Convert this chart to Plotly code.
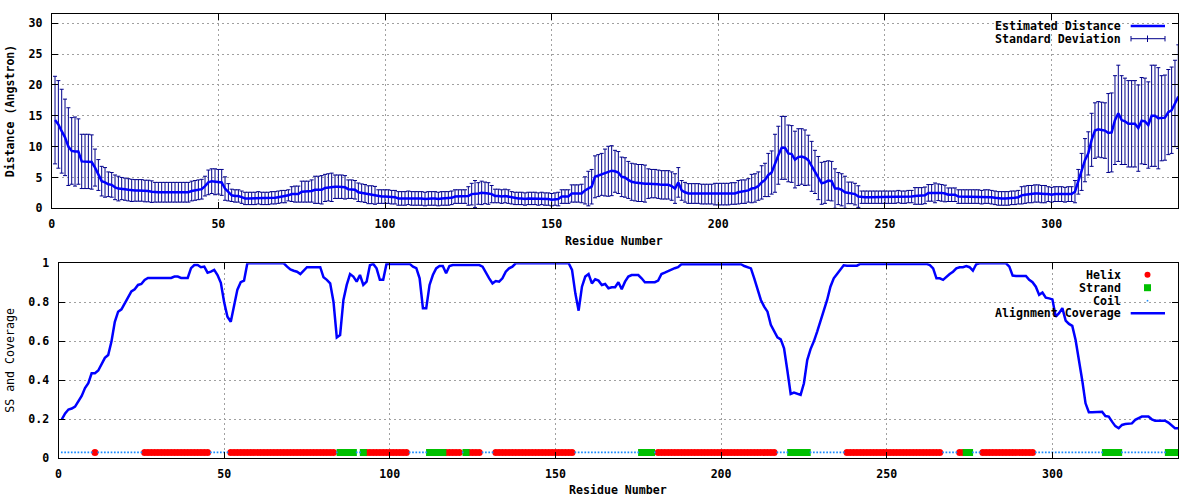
import plotly.graph_objects as go

# ---------------- data ----------------
residues = list(range(1, 339))

mean_distance = [
    14.3, 13.6, 12.5, 11.5, 10.0, 9.3, 9.2, 9.2, 7.6, 7.6,
    7.6, 7.5, 6.6, 5.4, 4.4, 4.2, 3.9, 3.8, 3.4, 3.2,
    3.2, 3.1, 3.0, 2.9, 2.9, 2.9, 2.9, 2.8, 2.8, 2.7,
    2.6, 2.6, 2.6, 2.6, 2.6, 2.6, 2.6, 2.6, 2.6, 2.6,
    2.6, 2.8, 2.9, 3.0, 3.1, 3.6, 4.2, 4.4, 4.3, 4.3,
    4.2, 3.2, 2.6, 2.1, 2.0, 2.0, 1.8, 1.6, 1.6, 1.6,
    1.6, 1.7, 1.6, 1.6, 1.6, 1.7, 1.7, 1.8, 1.9, 1.9,
    2.1, 2.3, 2.3, 2.3, 2.7, 2.7, 2.7, 2.8, 3.0, 3.0,
    3.0, 3.3, 3.4, 3.4, 3.5, 3.5, 3.5, 3.4, 3.1, 3.1,
    3.0, 2.6, 2.5, 2.4, 2.2, 2.2, 2.1, 1.9, 1.9, 1.9,
    1.9, 1.8, 1.8, 1.6, 1.6, 1.6, 1.7, 1.6, 1.6, 1.6,
    1.6, 1.5, 1.6, 1.6, 1.6, 1.5, 1.6, 1.6, 1.6, 1.7,
    1.9, 1.9, 1.9, 1.9, 2.0, 2.3, 2.3, 2.4, 2.5, 2.5,
    2.4, 2.3, 2.0, 2.0, 1.9, 2.0, 1.9, 1.7, 1.6, 1.6,
    1.6, 1.5, 1.6, 1.6, 1.6, 1.5, 1.6, 1.5, 1.5, 1.4,
    1.5, 1.5, 1.9, 1.9, 1.9, 2.4, 2.4, 2.4, 2.4, 2.9,
    3.2, 3.5, 5.1, 5.3, 5.5, 5.8, 6.0, 6.1, 6.0, 5.8,
    5.1, 5.0, 4.6, 4.3, 4.2, 4.1, 4.1, 4.0, 4.0, 4.0,
    4.0, 3.9, 3.8, 3.8, 3.8, 3.6, 3.2, 4.2, 2.9, 2.6,
    2.4, 2.4, 2.4, 2.4, 2.3, 2.3, 2.3, 2.3, 2.3, 2.3,
    2.3, 2.3, 2.3, 2.4, 2.4, 2.6, 2.7, 2.7, 2.9, 3.2,
    3.3, 3.6, 4.2, 4.6, 5.4, 5.8, 7.3, 8.6, 9.8, 9.8,
    8.9, 8.8, 7.9, 8.3, 8.4, 8.2, 7.8, 6.8, 5.9, 4.9,
    4.05, 4.2, 4.5, 4.4, 3.2, 3.2, 3.0, 2.6, 2.5, 2.5,
    2.3, 1.9, 1.8, 1.8, 1.8, 1.8, 1.8, 1.8, 1.8, 1.8,
    1.8, 1.8, 1.8, 1.9, 1.8, 1.8, 1.9, 1.9, 2.0, 2.0,
    2.0, 2.1, 2.5, 2.5, 2.5, 2.6, 2.5, 2.4, 2.2, 2.2,
    2.2, 1.9, 1.9, 1.9, 1.9, 1.9, 1.9, 1.9, 1.8, 1.9,
    1.9, 1.8, 1.7, 1.6, 1.6, 1.6, 1.6, 1.7, 1.7, 1.8,
    2.1, 2.2, 2.3, 2.3, 2.4, 2.4, 2.3, 2.3, 2.3, 2.2,
    2.3, 2.3, 2.3, 2.2, 2.3, 2.3, 2.7, 4.3, 5.9, 7.8,
    8.9, 11.1, 12.6, 12.8, 12.7, 12.6, 12.2, 12.3, 14.3, 15.4,
    14.3, 14.1, 13.7, 13.7, 13.7, 13.0, 14.2, 14.1, 13.5, 15.0,
    15.0, 14.6, 14.6, 14.7, 15.6, 15.9, 17.0, 18.1,
]

std_dev = [
    7.1, 7.1, 6.8, 6.2, 6.3, 5.4, 5.6, 5.3, 4.4, 4.4,
    4.4, 4.4, 3.0, 2.5, 2.4, 2.4, 2.0, 2.0, 2.0, 2.0,
    1.8, 1.8, 1.8, 1.8, 1.75, 1.75, 1.75, 1.75, 1.75, 1.75,
    1.6, 1.6, 1.6, 1.6, 1.6, 1.6, 1.6, 1.6, 1.6, 1.6,
    1.6, 1.6, 1.6, 1.6, 1.6, 1.6, 2.0, 2.0, 2.1, 2.0,
    2.1, 1.9, 1.4, 1.0, 1.0, 1.0, 1.0, 1.0, 1.0, 1.0,
    1.0, 1.0, 1.0, 1.0, 1.0, 1.0, 1.0, 1.0, 1.0, 1.0,
    0.9, 1.2, 1.3, 1.3, 1.7, 1.7, 1.7, 1.8, 2.2, 2.2,
    2.3, 2.2, 2.2, 2.3, 1.9, 1.9, 1.9, 1.9, 1.5, 1.5,
    1.5, 1.5, 1.45, 1.45, 1.45, 1.45, 1.45, 1.1, 1.1, 1.1,
    1.1, 1.1, 1.1, 1.1, 1.1, 1.1, 1.1, 1.1, 1.1, 1.1,
    1.1, 1.1, 1.1, 1.1, 1.1, 1.1, 1.1, 1.1, 1.1, 1.1,
    1.1, 1.1, 1.1, 1.1, 1.5, 1.75, 2.2, 1.75, 1.9, 1.75,
    1.75, 1.4, 1.1, 1.1, 1.1, 1.1, 1.1, 1.0, 1.0, 1.0,
    1.0, 1.0, 1.0, 1.0, 1.0, 1.0, 1.0, 1.0, 1.0, 1.0,
    1.0, 1.1, 1.1, 1.1, 1.1, 1.4, 1.4, 1.4, 1.5, 2.2,
    2.8, 2.8, 3.4, 3.4, 3.4, 3.8, 4.05, 4.05, 3.4, 3.4,
    3.2, 3.2, 3.0, 3.0, 3.0, 3.0, 3.0, 3.0, 2.4, 2.3,
    2.3, 2.3, 2.3, 2.3, 2.3, 2.3, 2.4, 2.4, 1.6, 1.6,
    1.6, 1.6, 1.6, 1.6, 1.6, 1.6, 1.6, 1.6, 1.75, 1.75,
    1.75, 1.75, 1.75, 1.75, 1.75, 1.9, 1.9, 1.9, 1.9, 2.3,
    2.3, 2.3, 2.7, 2.7, 3.5, 3.5, 4.7, 4.7, 5.1, 5.1,
    4.6, 4.6, 4.6, 4.6, 4.5, 4.5, 4.05, 4.05, 3.5, 3.5,
    3.4, 3.4, 3.2, 3.2, 3.2, 2.6, 2.6, 2.6, 1.75, 1.75,
    1.75, 1.75, 1.0, 1.0, 1.0, 1.0, 1.0, 1.0, 1.0, 1.0,
    1.0, 1.0, 1.0, 1.0, 1.0, 1.0, 1.0, 1.0, 1.35, 1.35,
    1.35, 1.35, 1.35, 1.35, 1.6, 1.35, 1.35, 1.35, 1.1, 1.1,
    1.1, 1.1, 1.1, 1.1, 1.1, 1.1, 1.1, 1.1, 1.1, 1.1,
    1.1, 1.1, 1.1, 1.1, 1.1, 1.1, 1.1, 1.1, 1.1, 1.1,
    1.4, 1.4, 1.4, 1.4, 1.4, 1.4, 1.4, 1.4, 1.2, 1.2,
    1.2, 1.2, 1.2, 1.2, 1.2, 1.2, 1.8, 2.0, 3.0, 3.5,
    3.5, 4.3, 4.5, 4.5, 4.5, 4.5, 6.4, 6.4, 7.2, 7.8,
    7.2, 7.0, 7.0, 7.0, 7.0, 7.0, 7.0, 7.0, 7.0, 8.2,
    8.2, 8.2, 6.9, 6.9, 6.9, 7.0, 7.0, 8.4,
]

coverage = [
    0.20, 0.23, 0.25, 0.255, 0.265, 0.29, 0.32, 0.36, 0.385, 0.436,
    0.436, 0.45, 0.487, 0.515, 0.53, 0.60, 0.70, 0.752, 0.764, 0.795,
    0.82, 0.856, 0.867, 0.889, 0.894, 0.915, 0.925, 0.925, 0.925, 0.925,
    0.925, 0.925, 0.925, 0.925, 0.932, 0.932, 0.925, 0.925, 0.925, 0.975,
    0.991, 0.991, 0.98, 0.983, 0.952, 0.957, 0.966, 0.94, 0.90, 0.80,
    0.726, 0.70, 0.78, 0.865, 0.903, 0.911, 1.0, 1.0, 1.0, 1.0,
    1.0, 1.0, 1.0, 1.0, 1.0, 1.0, 1.0, 1.0, 0.983, 0.969,
    0.962, 0.957, 0.945, 0.962, 0.98, 0.98, 0.98, 0.98, 0.98, 0.928,
    0.915, 0.897, 0.803, 0.62, 0.632, 0.812, 0.889, 0.945, 0.932, 0.906,
    0.94, 0.889, 0.906, 0.99, 0.997, 0.974, 0.915, 0.915, 0.997, 0.997,
    0.997, 0.997, 0.997, 0.997, 0.997, 0.997, 0.983, 0.975, 0.923, 0.77,
    0.77, 0.889, 0.94, 0.974, 0.986, 0.986, 0.949, 0.986, 0.991, 0.991,
    0.991, 0.991, 0.991, 0.991, 0.991, 0.991, 0.991, 0.983, 0.949, 0.923,
    0.897, 0.909, 0.906, 0.923, 0.957, 0.974, 0.983, 1.0, 1.0, 1.0,
    1.0, 1.0, 1.0, 1.0, 1.0, 1.0, 1.0, 1.0, 1.0, 1.0,
    1.0, 1.0, 1.0, 1.0, 0.966, 0.846, 0.757, 0.88, 0.932, 0.945,
    0.897, 0.918, 0.911, 0.889, 0.894, 0.872, 0.877, 0.877, 0.903, 0.867,
    0.906, 0.932, 0.94, 0.94, 0.94, 0.923, 0.903, 0.903, 0.903, 0.903,
    0.911, 0.945, 0.952, 0.96, 0.969, 0.975, 0.98, 0.995, 0.995, 0.995,
    0.995, 0.995, 0.995, 0.995, 0.995, 0.995, 0.995, 0.995, 0.995, 0.995,
    0.995, 0.995, 0.995, 0.995, 0.995, 0.995, 0.986, 0.98, 0.974, 0.923,
    0.863, 0.812, 0.778, 0.752, 0.684, 0.65, 0.62, 0.61, 0.564, 0.45,
    0.33, 0.337, 0.33, 0.325, 0.385, 0.504, 0.56, 0.60, 0.65, 0.70,
    0.76, 0.812, 0.88, 0.923, 0.945, 0.965, 0.99, 0.988, 0.988, 0.988,
    0.988, 0.997, 0.997, 0.997, 0.997, 0.997, 0.997, 0.997, 0.997, 0.997,
    0.997, 0.997, 0.997, 0.997, 0.997, 0.997, 0.997, 0.997, 0.997, 0.997,
    0.997, 0.997, 0.991, 0.974, 0.923, 0.923, 0.915, 0.932, 0.945, 0.957,
    0.974, 0.98, 0.98, 0.986, 0.98, 0.962, 0.995, 1.0, 1.0, 1.0,
    1.0, 1.0, 1.0, 1.0, 1.0, 1.0, 0.983, 0.937, 0.935, 0.935,
    0.935, 0.935, 0.915, 0.903, 0.88, 0.838, 0.85, 0.824, 0.82, 0.815,
    0.726, 0.744, 0.77, 0.706, 0.689, 0.679, 0.607, 0.513, 0.40, 0.282,
    0.236, 0.236, 0.236, 0.236, 0.239, 0.217, 0.214, 0.188, 0.165, 0.154,
    0.171, 0.176, 0.178, 0.179, 0.197, 0.205, 0.214, 0.214, 0.214, 0.20,
    0.193, 0.193, 0.193, 0.193, 0.183, 0.17, 0.154, 0.154,
]

ss_string = (
    "CCCCCCCCCC" "HCCCCCCCCC" "CCCCCHHHHH" "HHHHHHHHHH" "HHHHHCCCCC"
    "CHHHHHHHHH" "HHHHHHHHHH" "HHHHHHHHHH" "HHHCEEEEEC" "CEHHHHHHHH"
    "HHHHHCCCCC" "CEEEEEHHHH" "HCEHHHHCCC" "CHHHHHHHHH" "HHHHHHHHHH"
    "HHHHHCCCCC" "CCCCCCCCCC" "CCCCCEEEEC" "HHHHHHHHHH" "HHHHHHHHHH"
    "HHHHHHHHHH" "HHHHHHCCCC" "EEEEEECCCC" "CCCCCCCHHH" "HHHHHHHHHH"
    "HHHHHHHHHH" "HHHHHHCCCC" "CHHEECCCHH" "HHHHHHHHHH" "HHHHCCCCCC"
    "CCCCCCCCCC" "CCCCCEEEEE" "CCCCCCCCCC" "CCCCEEEE"
)
ss_level = 0.03

x_ticks = [0, 50, 100, 150, 200, 250, 300]

# ---------------- styling ----------------
W, H = 1200, 500
FONT = "DejaVu Sans Mono"
FS = 11.6
BLUE = "#0000ff"
NAVY = "#00008b"
RED = "#ff0000"
GREEN = "#00c000"
COIL = "#1a8cff"


def px(x):
    return x / W


def py(y):
    return 1 - y / H


fig = go.Figure()

# top panel: error bars + mean line
fig.add_trace(go.Scatter(
    x=residues, y=mean_distance, mode="markers",
    marker=dict(size=1, color="rgba(0,0,0,0)"),
    error_y=dict(type="data", array=std_dev, visible=True, color=NAVY,
                 thickness=1, width=2),
    xaxis="x", yaxis="y", showlegend=False, hoverinfo="skip"))
fig.add_trace(go.Scatter(
    x=residues, y=mean_distance, mode="lines",
    line=dict(color=BLUE, width=2.5),
    xaxis="x", yaxis="y", showlegend=False))

# bottom panel: secondary structure + coverage
hx = [r for r, s in zip(residues, ss_string) if s == "H"]
ex = [r for r, s in zip(residues, ss_string) if s == "E"]
cx = [r for r, s in zip(residues, ss_string) if s == "C"]

fig.add_trace(go.Scatter(
    x=hx, y=[ss_level] * len(hx), mode="markers",
    marker=dict(symbol="circle", size=7, color=RED, line=dict(width=0)),
    xaxis="x2", yaxis="y2", showlegend=False))
fig.add_trace(go.Scatter(
    x=ex, y=[ss_level] * len(ex), mode="markers",
    marker=dict(symbol="square", size=7, color=GREEN, line=dict(width=0)),
    xaxis="x2", yaxis="y2", showlegend=False))
fig.add_trace(go.Scatter(
    x=cx, y=[ss_level] * len(cx), mode="markers",
    marker=dict(symbol="square", size=1.7, color=COIL, line=dict(width=0)),
    xaxis="x2", yaxis="y2", showlegend=False))
fig.add_trace(go.Scatter(
    x=residues, y=coverage, mode="lines",
    line=dict(color=BLUE, width=2.5),
    xaxis="x2", yaxis="y2", showlegend=False))

axis_common = dict(
    showline=True, linecolor="black", linewidth=1, mirror="ticks",
    ticks="inside", ticklen=6, tickcolor="black", tickwidth=1,
    showgrid=True, gridcolor="#a0a0a0", gridwidth=1, griddash="2px,3px",
    zeroline=False, automargin=False,
    tickfont=dict(family=FONT, size=FS, color="black", weight="bold"),
)

fig.update_layout(
    width=W, height=H,
    margin=dict(l=0, r=0, t=0, b=0),
    paper_bgcolor="white", plot_bgcolor="white",
    font=dict(family=FONT, size=FS, color="black"),
    showlegend=False,
    xaxis=dict(domain=[px(51.7), px(1178.3)], range=[0, 338], anchor="y",
               tickvals=x_ticks, ticklabelstandoff=5, **axis_common),
    yaxis=dict(domain=[py(208.3), py(14.3)], range=[0, 31.45], anchor="x",
               tickvals=[0, 5, 10, 15, 20, 25, 30], ticklabelstandoff=6,
               **axis_common),
    xaxis2=dict(domain=[px(58.5), px(1178.3)], range=[0, 338], anchor="y2",
                tickvals=x_ticks, ticklabelstandoff=5, **axis_common),
    yaxis2=dict(domain=[py(458.3), py(263.3)], range=[0, 1], anchor="x2",
                tickvals=[0, 0.2, 0.4, 0.6, 0.8, 1], ticktext=["0", "0.2", "0.4", "0.6", "0.8", "1"],
                ticklabelstandoff=6, **axis_common),
)

bold = dict(family=FONT, size=FS, color="black", weight="bold")
normal = dict(family=FONT, size=FS, color="black", weight="normal")

annotations = [
    dict(x=px(10), y=py(111.3), text="Distance (Angstron)", textangle=-90, font=bold),
    dict(x=px(10), y=py(360.8), text="SS and Coverage", textangle=-90, font=normal),
    dict(x=px(614), y=py(240.5), text="Residue Number", font=bold),
    dict(x=px(617.7), y=py(490), text="Residue Number", font=bold),
    # legend texts
    dict(x=px(1123), y=py(26), text="Estimated Distance", xanchor="right", font=bold),
    dict(x=px(1123), y=py(39), text="Standard Deviation", xanchor="right", font=bold),
    dict(x=px(1123), y=py(275), text="Helix", xanchor="right", font=bold),
    dict(x=px(1123), y=py(287.7), text="Strand", xanchor="right", font=bold),
    dict(x=px(1123), y=py(300.7), text="Coil", xanchor="right", font=bold),
    dict(x=px(1123), y=py(313.3), text="Alignment Coverage", xanchor="right", font=bold),
]
for a in annotations:
    a.setdefault("xanchor", "center")
    a.update(xref="paper", yref="paper", yanchor="middle", showarrow=False)
fig.update_layout(annotations=annotations)

# legend backgrounds (opaque key boxes, under the data, over the grid)
for (x0, y0, x1, y1) in [(996, 15, 1176, 47), (996, 264, 1176, 320)]:
    try:
        fig.add_shape(type="rect", xref="paper", yref="paper",
                      x0=px(x0), x1=px(x1), y0=py(y1), y1=py(y0),
                      fillcolor="white", line=dict(width=0), layer="between")
    except ValueError:
        pass

# legend samples
def pline(x0, y0, x1, y1, color, width):
    fig.add_shape(type="line", xref="paper", yref="paper",
                  x0=px(x0), x1=px(x1), y0=py(y0), y1=py(y1),
                  line=dict(color=color, width=width), layer="above")

pline(1130.7, 26, 1165, 26, BLUE, 2.5)
pline(1131, 38.7, 1165, 38.7, NAVY, 1)
pline(1131, 36, 1131, 41.4, NAVY, 1)
pline(1165, 36, 1165, 41.4, NAVY, 1)
pline(1147.5, 35.5, 1147.5, 42, NAVY, 1)
fig.add_shape(type="circle", xref="paper", yref="paper",
              x0=px(1144.5), x1=px(1150.5), y0=py(277.7), y1=py(271.7),
              fillcolor=RED, line=dict(width=0), layer="above")
fig.add_shape(type="rect", xref="paper", yref="paper",
              x0=px(1144), x1=px(1151), y0=py(291.2), y1=py(284.2),
              fillcolor=GREEN, line=dict(width=0), layer="above")
fig.add_shape(type="rect", xref="paper", yref="paper",
              x0=px(1146.7), x1=px(1148.3), y0=py(301.5), y1=py(299.9),
              fillcolor=COIL, line=dict(width=0), layer="above")
pline(1130.7, 313.3, 1165, 313.3, BLUE, 2.5)

fig.write_html(
    "out.html",
    config={"displayModeBar": False},
    post_script="document.body.style.margin='0';document.body.style.padding='0';"
                "document.documentElement.style.overflow='hidden';",
)
